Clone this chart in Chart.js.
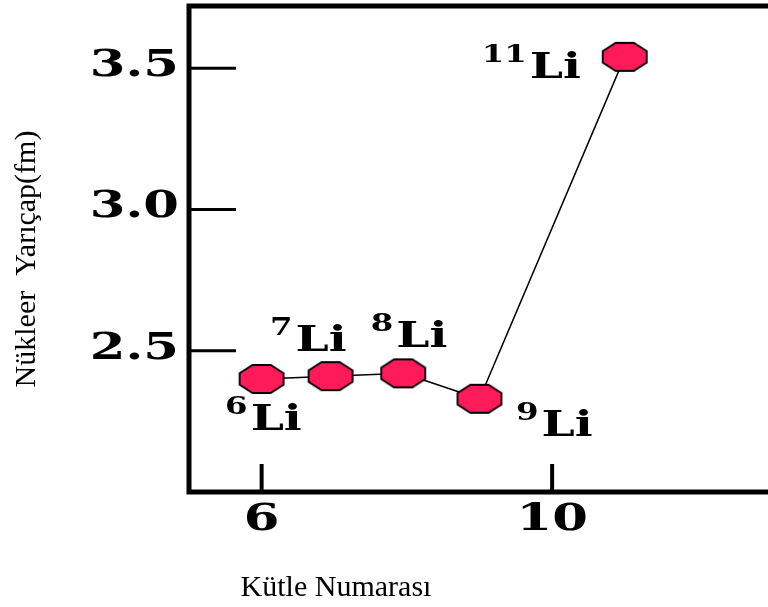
<!DOCTYPE html>
<html>
<head>
<meta charset="utf-8">
<script src="https://cdn.jsdelivr.net/npm/chart.js@4.4.1/dist/chart.umd.min.js"></script>
<style>
    html, body { margin: 0; padding: 0; background: #fff; overflow: hidden; }
    #wrap { width: 780px; height: 607px; }
</style>
</head>
<body>
<div id="wrap"><canvas id="radiusChart" width="780" height="607"></canvas></div>
<script>
// data
const massNumbers = [6, 6.95, 7.95, 9, 11];
const isotopes = ['6', '7', '8', '9', '11'];
const radii = [2.40, 2.41, 2.42, 2.33, 3.54];
const xTicks = [6, 10];
const yTicks = [2.5, 3.0, 3.5];
const xTitle = 'Kütle Numarası';
const yTitle = 'Nükleer  Yarıçap(fm)';

// octagon-ish marker as in the scan
function makeMarker(w, h) {
    const c = document.createElement('canvas');
    c.width = w + 4;
    c.height = h + 4;
    const g = c.getContext('2d');
    const cx = c.width / 2, cy = c.height / 2;
    const k = 1 / Math.cos(Math.PI / 8);
    g.beginPath();
    for (let i = 0; i < 8; i++) {
        const a = Math.PI / 8 + i * Math.PI / 4;
        const px = cx + (w / 2) * k * Math.cos(a);
        const py = cy + (h / 2) * k * Math.sin(a);
        if (i === 0) g.moveTo(px, py); else g.lineTo(px, py);
    }
    g.closePath();
    g.fillStyle = '#ff1a5a';
    g.fill();
    g.lineWidth = 1.8;
    g.strokeStyle = '#000';
    g.stroke();
    return c;
}

const BOLD = '"DejaVu Serif", serif';
const SX = 1.35;

function wideText(ctx, text, x, y, size, align) {
    ctx.save();
    ctx.font = 'bold ' + size + 'px ' + BOLD;
    const w = ctx.measureText(text).width * SX;
    let left = x;
    if (align === 'right') left = x - w;
    if (align === 'center') left = x - w / 2;
    ctx.translate(left, y);
    ctx.scale(SX, 1);
    ctx.textAlign = 'left';
    ctx.textBaseline = 'alphabetic';
    ctx.fillStyle = '#000';
    ctx.fillText(text, 0, 0);
    ctx.restore();
    return w;
}

const framePlugin = {
    id: 'frame',
    afterDraw(chart) {
        const ctx = chart.ctx;
        const area = chart.chartArea;
        const xs = chart.scales.x, ys = chart.scales.y;

        // frame
        ctx.save();
        ctx.strokeStyle = '#000';
        ctx.lineWidth = 5;
        ctx.beginPath();
        ctx.moveTo(area.right + 10, area.top);
        ctx.lineTo(area.left, area.top);
        ctx.lineTo(area.left, area.bottom);
        ctx.lineTo(area.right + 10, area.bottom);
        ctx.stroke();

        // inward tick marks
        ctx.lineWidth = 3;
        yTicks.forEach(v => {
            const y = ys.getPixelForValue(v);
            ctx.beginPath();
            ctx.moveTo(area.left, y);
            ctx.lineTo(area.left + 47, y);
            ctx.stroke();
        });
        ctx.lineWidth = 4;
        xTicks.forEach(v => {
            const x = xs.getPixelForValue(v);
            ctx.beginPath();
            ctx.moveTo(x, area.bottom);
            ctx.lineTo(x, area.bottom - 28);
            ctx.stroke();
        });
        ctx.restore();

        // tick labels
        yTicks.forEach(v => {
            wideText(ctx, v.toFixed(1), area.left - 10, ys.getPixelForValue(v) + 8, 38, 'right');
        });
        xTicks.forEach(v => {
            wideText(ctx, String(v), xs.getPixelForValue(v), area.bottom + 38, 38, 'center');
        });

        // isotope labels
        const offsets = [[-11, 51], [-35, -25], [-7, -26], [62, 37], [-95, 21]];
        massNumbers.forEach((m, i) => {
            const px = xs.getPixelForValue(m);
            const py = ys.getPixelForValue(radii[i]);
            const lx = px + offsets[i][0];
            const ly = py + offsets[i][1];
            wideText(ctx, 'Li', lx, ly, 35, 'left');
            wideText(ctx, isotopes[i], lx - 3, ly - 16, 24, 'right');
        });

        // axis titles
        ctx.save();
        ctx.fillStyle = '#000';
        ctx.font = '30px "Liberation Serif", serif';
        ctx.textAlign = 'center';
        ctx.textBaseline = 'alphabetic';
        ctx.fillText(xTitle, 336, 596);
        ctx.translate(35, 259);
        ctx.rotate(-Math.PI / 2);
        ctx.fillText(yTitle, 0, 0);
        ctx.restore();
    }
};

const ctx = document.getElementById('radiusChart').getContext('2d');
const chart = new Chart(ctx, {
    type: 'line',
    data: {
        datasets: [{
            data: massNumbers.map((m, i) => ({ x: m, y: radii[i] })),
            borderColor: '#000',
            borderWidth: 1.5,
            tension: 0,
            fill: false,
            pointStyle: makeMarker(44, 28),
            pointRadius: 14,
            clip: false
        }]
    },
    options: {
        responsive: false,
        animation: false,
        devicePixelRatio: 1,
        layout: { autoPadding: false, padding: { left: 189, top: 6, right: 10, bottom: 115 } },
        plugins: { legend: { display: false }, tooltip: { enabled: false } },
        scales: {
            x: {
                type: 'linear',
                min: 5,
                max: 13,
                display: false
            },
            y: {
                min: 2.0,
                max: 3.72,
                display: false
            }
        }
    },
    plugins: [framePlugin]
});
</script>
</body>
</html>
